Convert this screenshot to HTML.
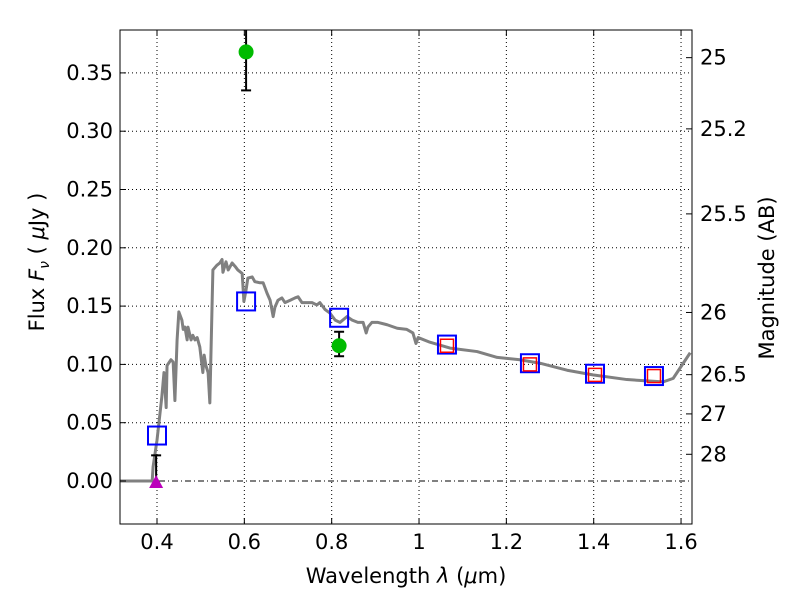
<!DOCTYPE html>
<html><head><meta charset="utf-8"><style>
body{margin:0;background:#fff}
svg text{font-family:"DejaVu Sans","Liberation Sans",sans-serif;font-size:21px;fill:#000}
</style></head><body>
<svg id="chart" width="800" height="600" xmlns="http://www.w3.org/2000/svg">
<rect width="800" height="600" fill="#fff"/>
<g id="grid"></g>
<g id="marks"></g>
<g id="axes"></g>
<text x="406" y="583" text-anchor="middle">Wavelength  <tspan font-style="italic">λ</tspan> (<tspan font-style="italic">μ</tspan>m)</text>
<text transform="translate(44,262) rotate(-90)" text-anchor="middle">Flux  <tspan font-style="italic">F</tspan><tspan font-style="italic" font-size="14" dy="5">ν</tspan><tspan dy="-5">  (  </tspan><tspan font-style="italic">μ</tspan>Jy )</text>
<text transform="translate(774,278) rotate(-90)" text-anchor="middle">Magnitude (AB)</text>
</svg>
<script>
const specWave=[0.315,0.389,0.391,0.400,0.411,0.416,0.421,0.423,0.432,0.437,0.441,0.446,0.450,0.457,0.460,0.464,0.469,0.471,0.478,0.482,0.487,0.492,0.498,0.505,0.508,0.512,0.517,0.521,0.526,0.528,0.537,0.544,0.549,0.551,0.558,0.563,0.572,0.579,0.585,0.595,0.599,0.604,0.608,0.618,0.624,0.636,0.643,0.652,0.659,0.666,0.670,0.677,0.686,0.693,0.705,0.716,0.723,0.732,0.739,0.755,0.766,0.773,0.785,0.796,0.808,0.819,0.835,0.847,0.860,0.872,0.879,0.883,0.892,0.906,0.927,0.950,0.972,0.986,0.993,0.998,1.025,1.071,1.133,1.179,1.231,1.277,1.339,1.398,1.476,1.559,1.582,1.621];
const specFlux=[0,0,0.012,0.035,0.072,0.093,0.063,0.099,0.104,0.102,0.069,0.121,0.145,0.138,0.130,0.132,0.121,0.132,0.121,0.125,0.121,0.123,0.115,0.093,0.108,0.099,0.093,0.067,0.149,0.181,0.185,0.187,0.190,0.179,0.188,0.181,0.187,0.184,0.181,0.178,0.154,0.164,0.174,0.175,0.171,0.170,0.170,0.161,0.155,0.141,0.149,0.155,0.157,0.153,0.155,0.157,0.158,0.153,0.153,0.153,0.151,0.153,0.147,0.144,0.138,0.136,0.141,0.138,0.136,0.136,0.127,0.132,0.136,0.136,0.134,0.131,0.130,0.127,0.118,0.123,0.119,0.114,0.111,0.106,0.104,0.101,0.095,0.091,0.087,0.085,0.088,0.110];
const modelWave=[0.400,0.604,0.817,1.064,1.254,1.403,1.538];
const modelFlux=[0.039,0.154,0.140,0.117,0.101,0.092,0.090];
const redWave=[1.064,1.254,1.403,1.538];
const redFlux=[0.116,0.100,0.091,0.090];
const obsWave=[0.604,0.817];
const obsFlux=[0.368,0.116];
const obsLo=[0.335,0.107];
const obsHi=[0.40,0.128];
const limWave=[0.398];
const limFlux=[0.0];
const limHi=[0.022];
const xTicks=[0.4,0.6,0.8,1.0,1.2,1.4,1.6];
const xTickLabels=["0.4","0.6","0.8","1","1.2","1.4","1.6"];
const yTicks=[0,0.05,0.10,0.15,0.20,0.25,0.30,0.35];
const yTickLabels=["0.00","0.05","0.10","0.15","0.20","0.25","0.30","0.35"];
const magTicks=[25,25.2,25.5,26,26.5,27,28];
const magLabels=["25","25.2","25.5","26","26.5","27","28"];

const L=120,R=692,T=30,B=524;
const x=v=>157+(v-0.4)*436.7;
const y=v=>481-v*1166;
const magToFlux=m=>Math.pow(10,-0.4*(m-23.9));
const NS="http://www.w3.org/2000/svg";
function mk(tag,attrs,parent){const e=document.createElementNS(NS,tag);for(const k in attrs)e.setAttribute(k,attrs[k]);parent.appendChild(e);return e;}
const grid=document.getElementById('grid'),marks=document.getElementById('marks'),axes=document.getElementById('axes');

xTicks.forEach((t,i)=>{
  const g=mk('line',{x1:x(t),x2:x(t),y1:T,y2:B,stroke:'#000','stroke-width':1,'stroke-dasharray':'1,3'},grid);
  
  
  mk('line',{x1:x(t),x2:x(t),y1:B,y2:B-6,stroke:'#000'},axes);
  mk('line',{x1:x(t),x2:x(t),y1:T,y2:T+6,stroke:'#000'},axes);
  const tx=mk('text',{x:x(t),y:B+25,'text-anchor':'middle'},axes);
  tx.textContent=xTickLabels[i];
  
  
});
yTicks.forEach((t,i)=>{
  const g=mk('line',{x1:L,x2:R,y1:y(t),y2:y(t),stroke:'#000','stroke-width':1,'stroke-dasharray':t===0?'6,3,1,3':'1,3'},grid);
  
  
  mk('line',{x1:L,x2:L+6,y1:y(t),y2:y(t),stroke:'#000'},axes);
  const tx=mk('text',{x:113,y:y(t)+7,'text-anchor':'end'},axes);
  tx.textContent=yTickLabels[i];
  
  
});
magTicks.forEach((m,i)=>{
  const yy=y(magToFlux(m));
  mk('line',{x1:R,x2:R-6,y1:yy,y2:yy,stroke:'#000'},axes);
  const tx=mk('text',{x:700,y:yy+7,'text-anchor':'start'},axes);
  tx.textContent=magLabels[i];
  
  
});
const fr=mk('rect',{x:L,y:T,width:R-L,height:B-T,fill:'none',stroke:'#000','stroke-width':1},axes);



const sp=mk('polyline',{points:specWave.map((w,i)=>x(w)+','+y(specFlux[i])).join(' '),fill:'none',stroke:'#808080','stroke-width':3,'stroke-linejoin':'round'},marks);



modelWave.forEach((w,i)=>{
  const r=mk('rect',{x:x(w)-9,y:y(modelFlux[i])-9,width:18,height:18,fill:'none',stroke:'#0000ff','stroke-width':2},marks);
  
  
});
redWave.forEach((w,i)=>{
  const r=mk('rect',{x:x(w)-6.5,y:y(redFlux[i])-6.5,width:13,height:13,fill:'none',stroke:'#ff0000','stroke-width':1.5},marks);
  
  
});
obsWave.forEach((w,i)=>{
  const top=Math.max(y(obsHi[i]),T);
  const e=mk('line',{x1:x(w),x2:x(w),y1:top,y2:y(obsLo[i]),stroke:'#000','stroke-width':2},marks);
  
  
  if(y(obsHi[i])>T)mk('line',{x1:x(w)-5,x2:x(w)+5,y1:top,y2:top,stroke:'#000','stroke-width':2},marks);
  mk('line',{x1:x(w)-5,x2:x(w)+5,y1:y(obsLo[i]),y2:y(obsLo[i]),stroke:'#000','stroke-width':2},marks);
  const c=mk('circle',{cx:x(w),cy:y(obsFlux[i]),r:7.5,fill:'#00bb00'},marks);
  
  
});
limWave.forEach((w,i)=>{
  const e=mk('line',{x1:x(w),x2:x(w),y1:y(limHi[i]),y2:y(limFlux[i]),stroke:'#000','stroke-width':2},marks);
  
  
  mk('line',{x1:x(w)-5,x2:x(w)+5,y1:y(limHi[i]),y2:y(limHi[i]),stroke:'#000','stroke-width':2},marks);
  const cx=x(w),cy=y(limFlux[i]);
  const t=mk('polygon',{points:`${cx-7},${cy+7} ${cx+7},${cy+7} ${cx},${cy-6}`,fill:'#bb00bb'},marks);
  
  
});
</script>
</body></html>
